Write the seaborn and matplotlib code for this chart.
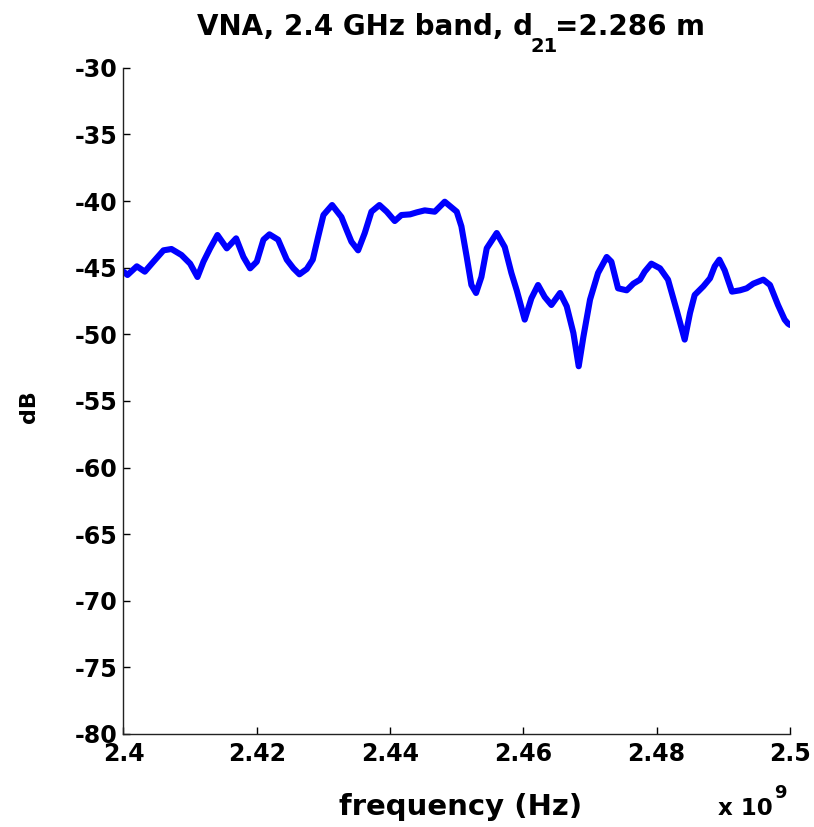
import matplotlib
matplotlib.use("Agg")
import matplotlib.pyplot as plt
import seaborn as sns
import pandas as pd
from matplotlib.ticker import FixedLocator, FuncFormatter

# Measured S21 magnitude across the 2.4 GHz ISM band
freq_ghz = [
    2.4000, 2.4006, 2.4020, 2.4032, 2.4045, 2.4060, 2.4072, 2.4087, 2.4100, 2.4111,
    2.4120, 2.4130, 2.4141, 2.4155, 2.4169, 2.4180, 2.4190, 2.4200, 2.4210, 2.4219,
    2.4232, 2.4245, 2.4255, 2.4264, 2.4275, 2.4284, 2.4292, 2.4300, 2.4313, 2.4327,
    2.4335, 2.4342, 2.4352, 2.4362, 2.4372, 2.4384, 2.4395, 2.4407, 2.4417, 2.4430,
    2.4440, 2.4452, 2.4467, 2.4482, 2.4500, 2.4507, 2.4515, 2.4522, 2.4529, 2.4537,
    2.4545, 2.4560, 2.4572, 2.4582, 2.4590, 2.4602, 2.4612, 2.4622, 2.4632, 2.4642,
    2.4655, 2.4665, 2.4675, 2.4683, 2.4690, 2.4700, 2.4712, 2.4725, 2.4732, 2.4742,
    2.4755, 2.4765, 2.4775, 2.4782, 2.4792, 2.4805, 2.4817, 2.4830, 2.4842, 2.4850,
    2.4857, 2.4870, 2.4880, 2.4887, 2.4894, 2.4902, 2.4913, 2.4925, 2.4935, 2.4945,
    2.4960, 2.4970, 2.4982, 2.4992, 2.4997, 2.5000,
]
s21_db = [
    -45.3, -45.55, -44.9, -45.3, -44.55, -43.7, -43.6, -44.05, -44.7, -45.7,
    -44.55, -43.55, -42.55, -43.55, -42.8, -44.2, -45.05, -44.55, -42.9, -42.5,
    -42.9, -44.4, -45.05, -45.5, -45.1, -44.4, -42.7, -41.05, -40.3, -41.2,
    -42.2, -43.05, -43.7, -42.4, -40.8, -40.3, -40.8, -41.5, -41.05, -41.0,
    -40.85, -40.7, -40.8, -40.05, -40.8, -41.9, -44.2, -46.3, -46.9, -45.7,
    -43.55, -42.4, -43.45, -45.4, -46.7, -48.9, -47.3, -46.3, -47.2, -47.8,
    -46.9, -47.9, -49.9, -52.4, -50.2, -47.4, -45.4, -44.2, -44.55, -46.55,
    -46.7, -46.2, -45.9, -45.3, -44.7, -45.05, -45.9, -48.2, -50.4, -48.4,
    -47.05, -46.4, -45.8, -44.9, -44.4, -45.2, -46.8, -46.7, -46.55, -46.2,
    -45.9, -46.3, -47.8, -48.9, -49.2, -49.3,
]
x_ticks_ghz = [2.4, 2.42, 2.44, 2.46, 2.48, 2.5]
x_tick_labels = ["2.4", "2.42", "2.44", "2.46", "2.48", "2.5"]
y_ticks = [-30, -35, -40, -45, -50, -55, -60, -65, -70, -75, -80]

sns.set_style("white")
plt.rcParams["font.family"] = ["DejaVu Sans"]
plt.rcParams["font.weight"] = "bold"
for key in ("text.color", "axes.labelcolor", "xtick.color", "ytick.color"):
    plt.rcParams[key] = "black"

df = pd.DataFrame({"freq_hz": [f * 1e9 for f in freq_ghz], "db": s21_db})

fig = plt.figure(figsize=(8.14, 8.27), dpi=100)
ax = fig.add_axes([0.1517, 0.1125, 0.8188, 0.8055])

sns.lineplot(data=df, x="freq_hz", y="db", ax=ax, color="#0000ff",
             linewidth=4.4, sort=False)
ax.lines[0].set_solid_joinstyle("round")
ax.lines[0].set_solid_capstyle("round")

ax.set_xlim(2.4e9, 2.5e9)
ax.set_ylim(-80, -30)
ax.xaxis.set_major_locator(FixedLocator([t * 1e9 for t in x_ticks_ghz]))
ax.xaxis.set_major_formatter(
    FuncFormatter(lambda v, p: x_tick_labels[p] if p is not None and p < len(x_tick_labels) else ""))
ax.yaxis.set_major_locator(FixedLocator(y_ticks))
ax.yaxis.set_major_formatter(FuncFormatter(lambda v, p: f"{int(round(v))}"))

for side in ("top", "right"):
    ax.spines[side].set_visible(False)
for side in ("left", "bottom"):
    ax.spines[side].set_color("#222222")
    ax.spines[side].set_linewidth(1.0)

ax.tick_params(axis="both", which="major", direction="in", length=5, width=1.0,
               color="black", labelsize=17, bottom=True, left=True,
               top=False, right=False)
ax.tick_params(axis="x", pad=6)
ax.tick_params(axis="y", pad=4.5)
for lab in ax.get_xticklabels() + ax.get_yticklabels():
    lab.set_fontweight("bold")

# Axis labels
ax.set_xlabel("frequency (Hz)", fontsize=21, fontweight="bold")
ax.xaxis.set_label_coords(0.506, -0.088)
ax.xaxis.label.set_verticalalignment("top")
ax.set_ylabel("dB", fontsize=16, fontweight="bold")
ax.yaxis.set_label_coords(-0.142, 0.492)
ax.yaxis.label.set_verticalalignment("center")

# Title with a lowered subscript on d
t1 = fig.text(0.242, 0.9577, "VNA, 2.4 GHz band, d", fontsize=20,
              fontweight="bold", ha="left", va="baseline")
t2 = ax.annotate("21", xy=(1.0, 0.9371), xycoords=(t1, "figure fraction"),
                 xytext=(-2, 0), textcoords="offset points",
                 fontsize=14, fontweight="bold", ha="left", va="baseline",
                 annotation_clip=False)
ax.annotate("=2.286 m", xy=(1.0, 0.9577), xycoords=(t2, "figure fraction"),
            xytext=(-1.5, 0), textcoords="offset points",
            fontsize=20, fontweight="bold", ha="left", va="baseline",
            annotation_clip=False)

# Exponent marker for the frequency axis
fig.text(0.882, 0.0145, "x 10", fontsize=16.5, fontweight="bold",
         ha="left", va="baseline")
fig.text(0.951, 0.0351, "9", fontsize=13, fontweight="bold",
         ha="left", va="baseline")

fig.savefig("out.png", dpi=100, facecolor="white")
